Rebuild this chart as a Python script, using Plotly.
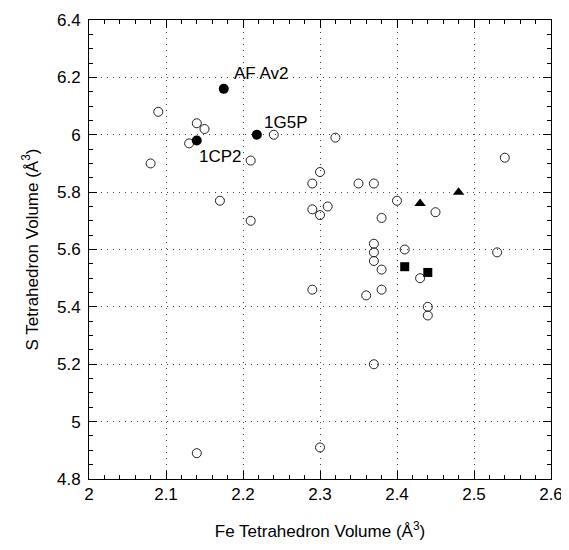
import plotly.graph_objects as go

# Open circles: other structures
open_x = [2.09, 2.14, 2.15, 2.13, 2.08, 2.24, 2.21, 2.32, 2.54, 2.30, 2.29, 2.35,
          2.37, 2.17, 2.40, 2.45, 2.29, 2.31, 2.30, 2.21, 2.38, 2.37, 2.37, 2.37,
          2.38, 2.41, 2.53, 2.43, 2.29, 2.38, 2.36, 2.44, 2.44, 2.37, 2.30, 2.14]
open_y = [6.08, 6.04, 6.02, 5.97, 5.90, 6.00, 5.91, 5.99, 5.92, 5.87, 5.83, 5.83,
          5.83, 5.77, 5.77, 5.73, 5.74, 5.75, 5.72, 5.70, 5.71, 5.62, 5.59, 5.56,
          5.53, 5.60, 5.59, 5.50, 5.46, 5.46, 5.44, 5.40, 5.37, 5.20, 4.91, 4.89]

# Filled circles (labelled)
filled_names = ["AF Av2", "1CP2", "1G5P"]
filled_x = [2.175, 2.14, 2.218]
filled_y = [6.16, 5.98, 6.00]

# Triangles and squares
tri_x = [2.43, 2.48]
tri_y = [5.76, 5.80]
sq_x = [2.41, 2.44]
sq_y = [5.54, 5.52]

# label positions (data coords)
label_x = [2.186, 2.1405, 2.225]
label_y = [6.215, 5.923, 6.041]

x_ticks = [2, 2.1, 2.2, 2.3, 2.4, 2.5, 2.6]
x_labels = ["2", "2.1", "2.2", "2.3", "2.4", "2.5", "2.6"]
y_ticks = [4.8, 5.0, 5.2, 5.4, 5.6, 5.8, 6.0, 6.2, 6.4]
y_labels = ["4.8", "5", "5.2", "5.4", "5.6", "5.8", "6", "6.2", "6.4"]

fig = go.Figure()
fig.add_trace(go.Scatter(x=open_x, y=open_y, mode="markers",
                         marker=dict(symbol="circle-open", size=9, color="#222",
                                     line=dict(width=1, color="#222"))))
fig.add_trace(go.Scatter(x=filled_x, y=filled_y, mode="markers",
                         marker=dict(symbol="circle", size=10, color="black")))
fig.add_trace(go.Scatter(x=tri_x, y=tri_y, mode="markers",
                         marker=dict(symbol="triangle-up", size=10, color="black")))
fig.add_trace(go.Scatter(x=sq_x, y=sq_y, mode="markers",
                         marker=dict(symbol="square", size=9, color="black")))

for name, lx, ly in zip(filled_names, label_x, label_y):
    fig.add_annotation(x=lx, y=ly, text=name, showarrow=False, xanchor="left",
                       yanchor="middle", font=dict(size=17, color="black"))

axis_common = dict(
    showline=True, linecolor="black", linewidth=1, mirror="ticks",
    ticks="inside", ticklen=8, tickcolor="black", tickwidth=1,
    showgrid=True, gridcolor="#444", gridwidth=1, griddash="1px,5px",
    zeroline=False, tickfont=dict(size=17, color="black"), automargin=False,
)

fig.update_xaxes(range=[2, 2.6], tickvals=x_ticks, ticktext=x_labels,
                 minor=dict(dtick=0.02, tick0=2, ticks="inside", ticklen=4,
                            tickcolor="black", showgrid=False),
                 title=dict(text="Fe Tetrahedron Volume (Å<sup>3</sup>)",
                            font=dict(size=17, color="black"), standoff=21),
                 **axis_common)
fig.update_yaxes(range=[4.8, 6.4], tickvals=y_ticks, ticktext=y_labels,
                 minor=dict(dtick=0.05, tick0=4.8, ticks="inside", ticklen=4,
                            tickcolor="black", showgrid=False),
                 title=dict(text="S Tetrahedron Volume (Å<sup>3</sup>)",
                            font=dict(size=17, color="black"), standoff=14),
                 ticklabelstandoff=4,
                 **axis_common)

fig.update_layout(
    width=561, height=542,
    margin=dict(l=81, r=18, t=12, b=71),
    plot_bgcolor="white", paper_bgcolor="white",
    showlegend=False,
    font=dict(family="Liberation Sans, Arial, sans-serif", color="black"),
)

fig.write_html("out.html")
